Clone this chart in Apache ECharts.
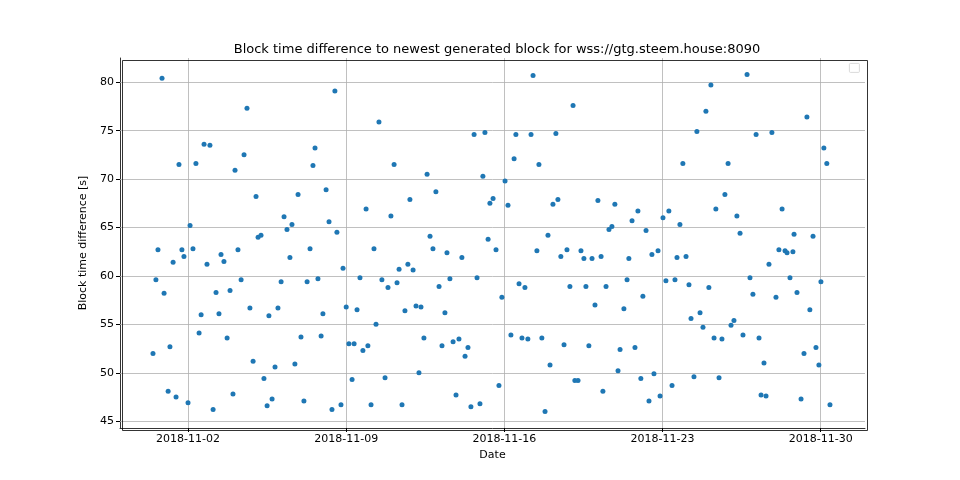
<!DOCTYPE html>
<html>
<head>
<meta charset="utf-8">
<script src="https://cdn.jsdelivr.net/npm/echarts@6/dist/echarts.min.js"></script>
<style>
  html, body { margin: 0; padding: 0; background: #fff; }
  #chart { width: 960px; height: 480px; }
</style>
</head>
<body>
<div id="chart"></div>
<script>
  // x = day of November 2018 (fractional), y = block time difference [s]
  const days = [
    0.45, 0.58, 0.67, 0.85, 0.94, 1.12, 1.20, 1.34, 1.47, 1.60, 1.73, 1.82, 2.00, 2.09, 2.22, 2.35,
    2.49, 2.58, 2.71, 2.84, 2.97, 3.11, 3.24, 3.37, 3.46, 3.59, 3.73, 3.86, 3.99, 4.08, 4.21, 4.35,
    4.48, 4.61, 4.74, 4.88, 5.01, 5.10, 5.23, 5.36, 5.50, 5.58, 5.72, 5.85, 5.98, 6.12, 6.25, 6.38,
    6.51, 6.60, 6.73, 6.87, 7.00, 7.13, 7.27, 7.40, 7.53, 7.62, 7.75, 7.89, 7.97, 8.11, 8.24, 8.37,
    8.50, 8.59, 8.77, 8.86, 9.00, 9.12, 9.26, 9.35, 9.48, 9.61, 9.74, 9.88, 9.96, 10.10, 10.23, 10.32,
    10.45, 10.58, 10.72, 10.85, 10.98, 11.12, 11.25, 11.34, 11.47, 11.60, 11.73, 11.82, 11.96, 12.09, 12.22, 12.31,
    12.44, 12.58, 12.71, 12.84, 12.97, 13.11, 13.24, 13.37, 13.46, 13.59, 13.73, 13.86, 13.99, 14.12, 14.26, 14.39,
    14.52, 14.66, 14.79, 14.92, 15.05, 15.14, 15.28, 15.36, 15.50, 15.63, 15.76, 15.89, 16.03, 16.16, 16.29, 16.43,
    16.51, 16.65, 16.78, 16.91, 17.04, 17.18, 17.27, 17.44, 17.53, 17.66, 17.80, 17.93, 18.02, 18.15, 18.28, 18.37,
    18.50, 18.64, 18.77, 18.90, 19.04, 19.12, 19.26, 19.39, 19.52, 19.61, 19.74, 19.88, 20.01, 20.14, 20.28, 20.36,
    20.50, 20.63, 20.76, 20.89, 21.03, 21.12, 21.29, 21.43, 21.51, 21.65, 21.78, 21.91, 22.04, 22.13, 22.27, 22.40,
    22.53, 22.62, 22.80, 22.89, 23.02, 23.15, 23.28, 23.42, 23.55, 23.64, 23.77, 23.90, 24.04, 24.17, 24.26, 24.39,
    24.52, 24.66, 24.79, 24.92, 25.05, 25.14, 25.28, 25.36, 25.50, 25.63, 25.76, 25.90, 26.03, 26.16, 26.29, 26.43,
    26.56, 26.74, 26.87, 27.00, 27.14, 27.27, 27.36, 27.49, 27.58, 27.71, 27.84, 28.02, 28.15, 28.29, 28.42, 28.51,
    28.64, 28.77, 28.82, 28.95, 29.13, 29.26, 29.39, 29.52, 29.66, 29.79, 29.92, 30.01, 30.14, 30.27, 30.41
  ];
  const diffs = [
    52.0, 59.6, 62.7, 80.4, 58.2, 48.1, 52.7, 61.4, 47.5, 71.5, 62.7, 62.0, 46.9, 65.2, 62.8, 71.6,
    54.1, 56.0, 73.6, 61.2, 73.5, 46.2, 58.3, 56.1, 62.2, 61.5, 53.6, 58.5, 47.8, 70.9, 62.7, 59.6,
    72.5, 77.3, 56.7, 51.2, 68.2, 64.0, 64.2, 49.4, 46.6, 55.9, 47.3, 50.6, 56.7, 59.4, 66.1, 64.8,
    61.9, 65.3, 50.9, 68.4, 53.7, 47.1, 59.4, 62.8, 71.4, 73.2, 59.7, 53.8, 56.1, 68.9, 65.6, 46.2,
    79.1, 64.5, 46.7, 60.8, 56.8, 53.0, 49.3, 53.0, 56.5, 59.8, 52.3, 66.9, 52.8, 46.7, 62.8, 55.0,
    75.9, 59.6, 49.5, 58.8, 66.2, 71.5, 59.3, 60.7, 46.7, 56.4, 61.2, 67.9, 60.6, 56.9, 50.0, 56.8,
    53.6, 70.5, 64.1, 62.8, 68.7, 58.9, 52.8, 56.2, 62.4, 59.7, 53.2, 47.7, 53.5, 61.9, 51.7, 52.6,
    46.5, 74.6, 59.8, 46.8, 70.3, 74.8, 63.8, 67.5, 68.0, 62.7, 48.7, 57.8, 69.8, 67.3, 53.9, 72.1,
    74.6, 59.2, 53.6, 58.8, 53.5, 74.6, 80.7, 62.6, 71.5, 53.6, 46.0, 64.2, 50.8, 67.4, 74.7, 67.9,
    62.0, 52.9, 62.7, 58.9, 77.6, 49.2, 49.2, 62.6, 61.8, 58.9, 52.8, 61.8, 57.0, 67.8, 62.0, 48.1,
    58.9, 64.8, 65.1, 67.4, 50.2, 52.4, 56.6, 59.6, 61.8, 65.7, 52.6, 66.7, 49.4, 57.9, 64.7, 47.1,
    62.2, 49.9, 62.6, 47.6, 66.0, 59.5, 66.7, 48.7, 59.6, 61.9, 65.3, 71.6, 62.0, 59.1, 55.6, 49.6,
    74.9, 56.2, 54.7, 77.0, 58.8, 79.7, 53.6, 66.9, 49.5, 53.5, 68.4, 71.6, 54.9, 55.4, 66.2, 64.4,
    53.9, 80.8, 59.8, 58.1, 74.6, 53.6, 47.7, 51.0, 47.6, 61.2, 74.8, 57.8, 62.7, 66.9, 62.6, 62.4,
    59.8, 62.5, 64.3, 58.3, 47.3, 52.0, 76.4, 56.5, 64.1, 52.6, 50.8, 59.4, 73.2, 71.6, 46.7
  ];
  const xTicks = [2, 9, 16, 23, 30];
  const yTicks = [45, 50, 55, 60, 65, 70, 75, 80];

  const font = "DejaVu Sans";
  const gridStyle = { color: "#b0b0b0", width: 0.8, type: "solid" };

  let chart = echarts.init(document.getElementById("chart"), null, { renderer: "canvas" });

  let points = days.map((d, i) => [d, diffs[i]]);
  let gridLines = xTicks.map((v) => ({ xAxis: v })).concat(yTicks.map((v) => ({ yAxis: v })));

  chart.setOption({
    animation: false,
    title: {
      text: "Block time difference to newest generated block for wss://gtg.steem.house:8090",
      left: 492, top: 38, textAlign: "center",
      textStyle: { fontFamily: font, fontSize: 13, fontWeight: "normal", color: "#000" },
    },
    grid: { left: 120, right: 95, top: 58, bottom: 52 },
    xAxis: {
      type: "value", min: -1.01, max: 31.96,
      name: "Date", nameLocation: "middle", nameGap: 22,
      nameTextStyle: { fontFamily: font, fontSize: 11, color: "#000" },
      axisLine: { show: true, onZero: false, lineStyle: { color: "#000", width: 0.8 } },
      axisTick: { show: true, customValues: xTicks, length: 4, lineStyle: { color: "#000" } },
      axisLabel: {
        customValues: xTicks, fontFamily: font, fontSize: 11, color: "#000", margin: 6,
        formatter: (v) => "2018-11-" + String(Math.round(v)).padStart(2, "0"),
      },
      splitLine: { show: false },
    },
    yAxis: {
      type: "value", min: 44.3, max: 82.5,
      name: "Block time difference [s]", nameLocation: "middle", nameGap: 30, nameRotate: 90,
      nameTextStyle: { fontFamily: font, fontSize: 11, color: "#000" },
      axisLine: { show: true, onZero: false, lineStyle: { color: "#000", width: 0.8 } },
      axisTick: { show: true, customValues: yTicks, length: 4, lineStyle: { color: "#000" } },
      axisLabel: { customValues: yTicks, fontFamily: font, fontSize: 11, color: "#000", margin: 6 },
      splitLine: { show: false },
    },
    graphic: [
      {
        type: "rect", left: 849, top: 63,
        shape: { width: 10, height: 9, r: 1 },
        style: { fill: "#fff", stroke: "#d0d0d0", lineWidth: 0.8 },
      },
      {
        type: "rect", left: 120, top: 58,
        shape: { width: 745, height: 370 },
        style: { fill: "none", stroke: "#000", lineWidth: 0.8 },
        z: 10,
      },
    ],
    series: [
      {
        type: "scatter",
        data: points,
        symbolSize: 5,
        itemStyle: { color: "#1f77b4", opacity: 1 },
        markLine: {
          silent: true, symbol: "none", label: { show: false },
          lineStyle: gridStyle, data: gridLines, z: 1,
        },
        z: 5,
      },
    ],
  });
</script>
</body>
</html>
